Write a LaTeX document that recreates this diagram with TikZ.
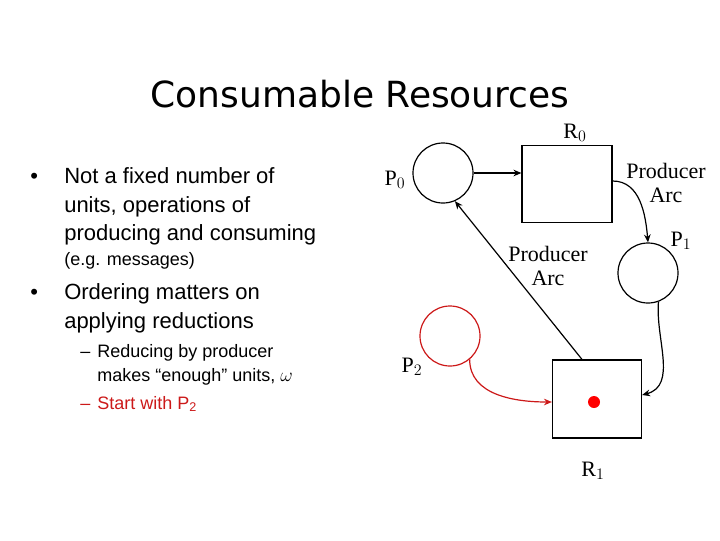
\documentclass[tikz,border=0pt]{standalone}
\usepackage{fontspec}
\setmainfont{Liberation Serif}
\setsansfont{Liberation Sans}
\newfontfamily\titlefont{DejaVu Sans}
\usetikzlibrary{arrows.meta}
\definecolor{darkred}{rgb}{0.8,0.1,0.1}
\tikzset{
	place/.style = {circle, draw=black, line width=0.9pt, minimum size=60*0.75pt, inner sep=0pt},
	resource/.style = {rectangle, draw=black, line width=0.9pt, inner sep=0pt},
	arc/.style = {->, >={Stealth[length=6pt,width=5pt]}, line width=0.9pt},
	lbl/.style = {font=\fontsize{16.5}{18}\selectfont, align=center},
	bodytxt/.style = {anchor=base west, inner sep=0pt, font=\sffamily\fontsize{16.5}{18}\selectfont},
	subtxt/.style = {anchor=base west, inner sep=0pt, font=\sffamily\fontsize{13.5}{15}\selectfont},
}
\begin{document}
\begin{tikzpicture}[x=0.75pt, y=-0.75pt]
	\useasboundingbox (0,0) rectangle (720,540);
	\node[font=\titlefont\fontsize{27}{30}\selectfont] (title) at (360,94) {Consumable Resources};

	% left column
	\node[bodytxt] (b1) at (30,183) {\textbullet};
	\node[bodytxt] (t1) at (64,183) {Not a fixed number of};
	\node[bodytxt] (t2) at (64,212) {units, operations of};
	\node[bodytxt] (t3) at (64,240) {producing and consuming};
	\node[subtxt] (t4) at (64,265) {(e.g. messages)};
	\node[bodytxt] (b2) at (30,299) {\textbullet};
	\node[bodytxt] (t5) at (64,299) {Ordering matters on};
	\node[bodytxt] (t6) at (64,328) {applying reductions};
	\node[subtxt] (d1) at (80,357) {--};
	\node[subtxt] (t7) at (97,357) {Reducing by producer};
	\node[subtxt] (t8) at (97,381) {makes “enough” units, $\omega$};
	\node[subtxt, darkred] (d2) at (80,409) {--};
	\node[subtxt, darkred] (t9) at (97,409) {Start with P\textsubscript{2}};

	% graph
	\node[place] (p0) at (443,173) {};
	\node[place] (p1) at (648,273) {};
	\node[place, draw=darkred] (p2) at (450,336) {};
	\node[resource, minimum width=90*0.75pt, minimum height=77*0.75pt] (r0) at (567,184) {};
	\node[resource, minimum width=89*0.75pt, minimum height=78*0.75pt] (r1) at (597,399) {};
	\node[circle, fill=red, minimum size=12*0.75pt, inner sep=0pt] (tok) at (594,402) {};

	\node[lbl] (lp0) at (395,180) {P$_0$};
	\node[lbl] (lr0) at (575,133) {R$_0$};
	\node[lbl] (lp1) at (681,241) {P$_1$};
	\node[lbl] (lp2) at (412,367) {P$_2$};
	\node[lbl] (lr1) at (593,471) {R$_1$};
	\node[lbl] (pa1) at (666,183) {Producer\\Arc};
	\node[lbl] (pa2) at (548,266) {Producer\\Arc};

	\draw[arc] (p0.east) -- (r0.west |- p0.east);
	\draw[arc] (r0.east |- 0,181) to[out=0, in=95] (p1.north);
	\draw[arc] (p1.-70) to[out=-95, in=15] (r1.east |- 0,395);
	\draw[arc] (r1.north -| 582,0) -- (p0.-67);
	\draw[arc, darkred] (p2.-50) to[out=-90, in=180] (r1.west |- tok);
\end{tikzpicture}
\end{document}
